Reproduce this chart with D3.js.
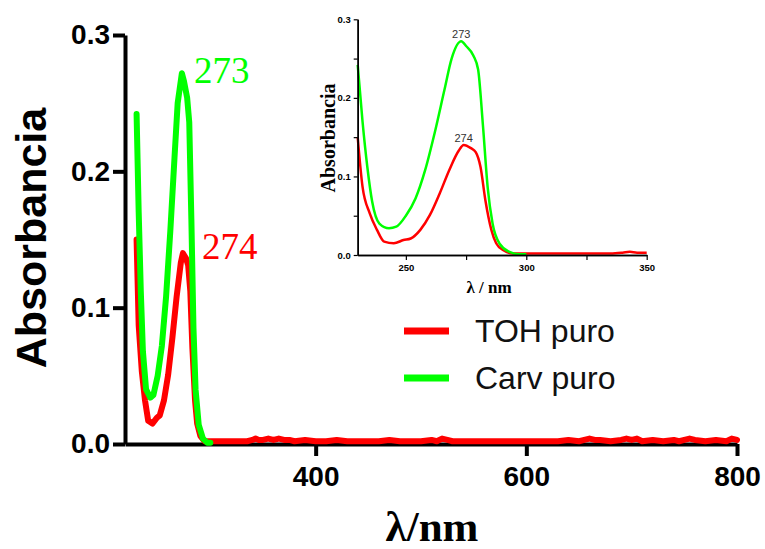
<!DOCTYPE html>
<html>
<head>
<meta charset="utf-8">
<script src="https://cdn.jsdelivr.net/npm/d3@7"></script>
<style>
  body { margin: 0; background: #fff; }
  svg { display: block; }
</style>
</head>
<body>
<div id="chart"></div>
<script>
let W = 765, H = 549;

// TOH puro (red) - absorbance
let tohNm = [230, 232, 235, 238, 241, 245, 249, 252, 256, 260, 264, 268, 272, 274, 277, 279, 281, 283, 285.5, 287.5, 290.5, 294.5, 300,
  305, 310, 315, 320, 325, 330, 335, 340, 343, 346, 350, 355, 360, 365, 370, 375, 380, 390, 400, 410, 420, 430, 440, 450, 460, 470, 480, 490,
  500, 510, 515, 520, 525, 530, 540, 550, 560, 570, 580, 590, 600, 610, 620, 630, 640, 650, 655, 660, 665, 670, 680, 690, 695, 700, 705, 710, 720, 730, 740,
  745, 750, 755, 760, 770, 780, 790, 795, 800];
let tohAbs = [0.150, 0.087, 0.053, 0.032, 0.017, 0.015, 0.019, 0.021, 0.032, 0.051, 0.078, 0.108, 0.133, 0.140, 0.136, 0.131, 0.112, 0.070, 0.032, 0.015, 0.006, 0.002, 0.002,
  0.002, 0.002, 0.002, 0.002, 0.002, 0.002, 0.002, 0.003, 0.004, 0.003, 0.003, 0.004, 0.003, 0.004, 0.003, 0.003, 0.002, 0.003, 0.002, 0.002, 0.003, 0.002, 0.002, 0.002, 0.002, 0.003, 0.002, 0.002,
  0.002, 0.003, 0.002, 0.004, 0.003, 0.002, 0.002, 0.002, 0.002, 0.002, 0.002, 0.002, 0.002, 0.002, 0.002, 0.002, 0.003, 0.002, 0.003, 0.004, 0.003, 0.003, 0.002, 0.003, 0.004, 0.003, 0.004, 0.002, 0.003, 0.002, 0.003,
  0.002, 0.003, 0.004, 0.003, 0.002, 0.003, 0.002, 0.004, 0.003];

// Carv puro (green)
let carvNm = [230, 232, 234, 236, 239, 243, 246, 250, 254, 258, 262, 266, 269, 273, 275, 278, 280, 282, 284, 286, 289, 293, 297, 300];
let carvAbs = [0.242, 0.170, 0.112, 0.068, 0.040, 0.034, 0.036, 0.050, 0.072, 0.108, 0.156, 0.210, 0.250, 0.272, 0.266, 0.254, 0.236, 0.165, 0.085, 0.040, 0.014, 0.004, 0.001, 0.001];

let seriesNames = ['TOH puro', 'Carv puro'];
let seriesColors = ['#ff0000', '#00ff00'];
let peakNm = [274, 273];
let peakAbs = [0.140, 0.272];

let mainXTicks = [400, 600, 800];
let mainYTicks = [0, 0.1, 0.2, 0.3];
let insetXTicks = [250, 300, 350];
let insetXMinor = [275, 325];
let insetYTicks = [0, 0.1, 0.2, 0.3];
let insetYMinor = [0.05, 0.15, 0.25];

let sans = 'Arial, "Liberation Sans", sans-serif';
let serif = '"Times New Roman", "Liberation Serif", serif';

let toh = tohNm.map((d, i) => ({nm: d, a: tohAbs[i]}));
let carv = carvNm.map((d, i) => ({nm: d, a: carvAbs[i]}));
let data = [toh, carv];

svg = d3.select('#chart')
    .append('svg')
    .attr('width', W)
    .attr('height', H)
    .style('background', '#fff');

// ---- main plot ----
xScale = d3.scaleLinear().domain([219, 800]).range([125, 737]);
yScale = d3.scaleLinear().domain([0, 0.3]).range([444, 35]);

let gy = svg.append('g')
    .attr('transform', 'translate(125,0)')
    .call(d3.axisLeft(yScale).tickValues(mainYTicks).tickFormat(d3.format('.1f'))
        .tickSize(12).tickSizeOuter(0).tickPadding(3));

let gx = svg.append('g')
    .attr('transform', 'translate(0,444)')
    .call(d3.axisBottom(xScale).tickValues(mainXTicks)
        .tickSize(12).tickSizeOuter(0).tickPadding(10));

[gx, gy].forEach(g => {
    g.select('.domain').attr('stroke', '#000').attr('stroke-width', 4);
    g.selectAll('.tick line').attr('stroke', '#000').attr('stroke-width', 4);
    g.selectAll('.tick text')
        .attr('fill', '#000')
        .style('font-family', sans)
        .style('font-weight', 'bold')
        .style('font-size', '28px');
});

let line = d3.line()
    .x(d => xScale(d.nm))
    .y(d => yScale(d.a));

svg.selectAll('path.main-line')
    .data(data)
    .enter()
    .append('path')
    .attr('class', 'main-line')
    .attr('d', line)
    .attr('fill', 'none')
    .attr('stroke', (d, i) => seriesColors[i])
    .attr('stroke-width', 6)
    .attr('stroke-linejoin', 'round')
    .attr('stroke-linecap', 'round');

// peak labels
let peakDx = [19, 12];
let peakDy = [6, 10];
svg.selectAll('text.peak')
    .data(peakNm)
    .enter()
    .append('text')
    .attr('class', 'peak')
    .attr('x', (d, i) => xScale(d) + peakDx[i])
    .attr('y', (d, i) => yScale(peakAbs[i]) + peakDy[i])
    .attr('fill', (d, i) => seriesColors[i])
    .style('font-family', serif)
    .style('font-size', '37px')
    .text(d => d);

// axis titles
svg.append('text')
    .attr('transform', 'translate(46,238) rotate(-90)')
    .attr('text-anchor', 'middle')
    .style('font-family', sans)
    .style('font-weight', 'bold')
    .style('font-size', '43px')
    .text('Absorbancia');

svg.append('text')
    .attr('x', 432)
    .attr('y', 541)
    .attr('text-anchor', 'middle')
    .style('font-family', serif)
    .style('font-weight', 'bold')
    .style('font-size', '43px')
    .text('λ/nm');

// legend
let legend = svg.selectAll('g.legend')
    .data(seriesNames)
    .enter()
    .append('g')
    .attr('class', 'legend')
    .attr('transform', (d, i) => 'translate(404,' + (331 + i * 47) + ')');

legend.append('line')
    .attr('x1', 0).attr('x2', 45)
    .attr('stroke', (d, i) => seriesColors[i])
    .attr('stroke-width', 7);

legend.append('text')
    .attr('x', 71)
    .attr('y', 11)
    .attr('fill', '#111')
    .style('font-family', sans)
    .style('font-size', '32px')
    .text(d => d);

// ---- inset ----
xInset = d3.scaleLinear().domain([230, 350]).range([357.7, 646.7]);
yInset = d3.scaleLinear().domain([0, 0.3]).range([255, 19.3]);

let insetLine = d3.line()
    .x(d => xInset(d.nm))
    .y(d => yInset(d.a))
    .curve(d3.curveMonotoneX);

svg.selectAll('path.inset-line')
    .data(data.map(s => s.filter(d => d.nm <= 350)))
    .enter()
    .append('path')
    .attr('class', 'inset-line')
    .attr('d', insetLine)
    .attr('fill', 'none')
    .attr('stroke', (d, i) => seriesColors[i])
    .attr('stroke-width', 2.5)
    .attr('stroke-linejoin', 'round');

let iy = svg.append('g')
    .attr('transform', 'translate(357.7,0)')
    .call(d3.axisLeft(yInset).tickValues(insetYTicks).tickFormat(d3.format('.1f'))
        .tickSize(4).tickSizeOuter(0).tickPadding(3));
let iyMinor = svg.append('g')
    .attr('transform', 'translate(357.7,0)')
    .call(d3.axisLeft(yInset).tickValues(insetYMinor).tickFormat('').tickSize(4).tickSizeOuter(0));
let ix = svg.append('g')
    .attr('transform', 'translate(0,255)')
    .call(d3.axisBottom(xInset).tickValues(insetXTicks)
        .tickSize(5).tickSizeOuter(0).tickPadding(4));
let ixMinor = svg.append('g')
    .attr('transform', 'translate(0,255)')
    .call(d3.axisBottom(xInset).tickValues(insetXMinor).tickFormat('').tickSize(5).tickSizeOuter(0));

[iy, iyMinor, ix, ixMinor].forEach(g => {
    g.select('.domain').attr('stroke', '#000').attr('stroke-width', 1.5);
    g.selectAll('.tick line').attr('stroke', '#000').attr('stroke-width', 1.2);
    g.selectAll('.tick text')
        .attr('fill', '#000')
        .style('font-family', sans)
        .style('font-weight', 'bold')
        .style('font-size', '9.5px');
});

svg.selectAll('text.inset-peak')
    .data(peakNm)
    .enter()
    .append('text')
    .attr('class', 'inset-peak')
    .attr('x', d => xInset(d))
    .attr('y', (d, i) => yInset(peakAbs[i]) - 3)
    .attr('text-anchor', 'middle')
    .attr('fill', '#333')
    .style('font-family', sans)
    .style('font-size', '11px')
    .text(d => d);

svg.append('text')
    .attr('transform', 'translate(335,138) rotate(-90)')
    .attr('text-anchor', 'middle')
    .style('font-family', serif)
    .style('font-weight', 'bold')
    .style('font-size', '20px')
    .text('Absorbancia');

svg.append('text')
    .attr('x', 489)
    .attr('y', 293)
    .attr('text-anchor', 'middle')
    .style('font-family', serif)
    .style('font-weight', 'bold')
    .style('font-size', '17px')
    .text('λ / nm');
</script>
</body>
</html>
